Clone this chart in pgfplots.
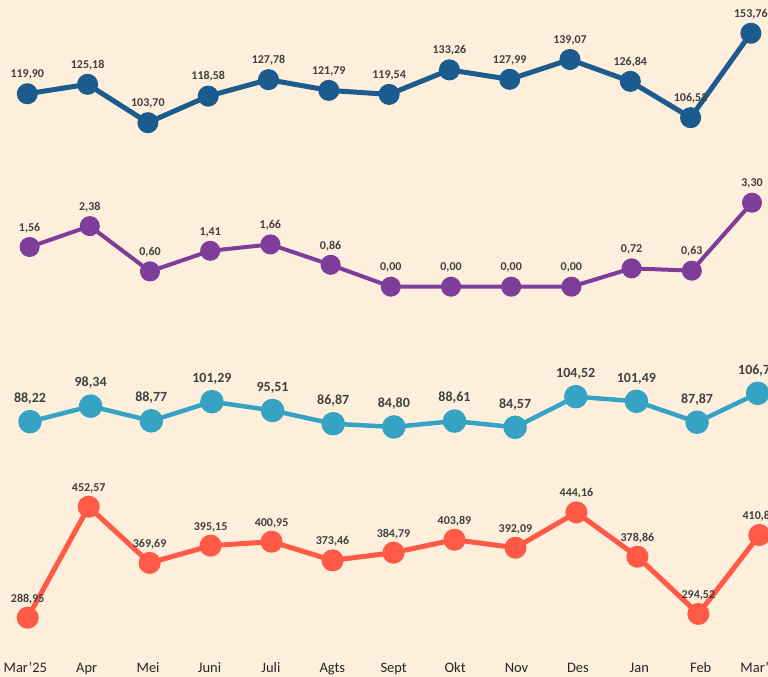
\documentclass[border=0pt]{standalone}
\usepackage{pgfplots}
\pgfplotsset{compat=1.18}
\usepackage{fontspec}
\setmainfont{Carlito}
\definecolor{bg}{HTML}{FEEFDC}
\definecolor{cblue}{HTML}{1B5B8E}
\definecolor{cpurple}{HTML}{7E3C9B}
\definecolor{ccyan}{HTML}{37A3C4}
\definecolor{cred}{HTML}{FF5A45}
\definecolor{ctxt}{HTML}{404040}
\pgfplotsset{
  band/.style={at={(0pt,0pt)}, anchor=south west, width=768pt, height=677pt,
    scale only axis, hide axis, clip=false,
    nodes near coords={\pgfmathprintnumber[fixed,fixed zerofill,precision=2,use comma,assume math mode=true]{\pgfplotspointmeta}},
    every node near coord/.append style={anchor=base, text=ctxt, inner sep=0pt}},
}
\begin{document}
\begin{tikzpicture}
\path[use as bounding box] (0pt,0pt) rectangle (768pt,677pt);
\fill[bg] (0pt,0pt) rectangle (768pt,677pt);
\clip (0pt,0pt) rectangle (768pt,677pt);
% Series 1 (dark blue)
\begin{axis}[band, xmin=-0.4527, xmax=12.2836, ymin=-206.66, ymax=172.40,
  every node near coord/.append style={yshift=16.2pt, font=\bfseries\fontsize{12}{12}\selectfont}]
\addplot[cblue, line width=5pt, line join=round, mark=*, mark size=8pt, mark options={draw=none, fill=cblue}] coordinates {
(0,119.90) (1,125.18) (2,103.70) (3,118.58) (4,127.78) (5,121.79) (6,119.54)
(7,133.26) (8,127.99) (9,139.07) (10,126.84) (11,106.52) (12,153.76)};
\end{axis}
% Series 2 (purple)
\begin{axis}[band, xmin=-0.4917, xmax=12.2658, ymin=-15.336, ymax=11.265,
  every node near coord/.append style={yshift=15.7pt, font=\bfseries\fontsize{12}{12}\selectfont}]
\addplot[cpurple, line width=4pt, line join=round, mark=*, mark size=8pt, mark options={draw=none, fill=cpurple}] coordinates {
(0,1.56) (1,2.38) (2,0.60) (3,1.41) (4,1.66) (5,0.86) (6,0.00)
(7,0.00) (8,0.00) (9,0.00) (10,0.72) (11,0.63) (12,3.30)};
\end{axis}
% Series 3 (cyan)
\begin{axis}[band, xmin=-0.4947, xmax=12.170, ymin=-78.21, ymax=363.12,
  every node near coord/.append style={yshift=19.2pt, font=\bfseries\fontsize{14}{14}\selectfont}]
\addplot[ccyan, line width=4.5pt, line join=round, mark=*, mark size=9.5pt, mark options={draw=none, fill=ccyan}] coordinates {
(0,88.22) (1,98.34) (2,88.77) (3,101.29) (4,95.51) (5,86.87) (6,84.80)
(7,88.61) (8,84.57) (9,104.52) (10,101.49) (11,87.87) (12,106.72)};
\end{axis}
% Series 4 (red)
\begin{axis}[band, xmin=-0.4543, xmax=12.142, ymin=201.54, ymax=1199.48,
  every node near coord/.append style={yshift=15.5pt, font=\bfseries\fontsize{12}{12}\selectfont}]
\addplot[cred, line width=5pt, line join=round, mark=*, mark size=8.5pt, mark options={draw=none, fill=cred}] coordinates {
(0,288.95) (1,452.57) (2,369.69) (3,395.15) (4,400.95) (5,373.46) (6,384.79)
(7,403.89) (8,392.09) (9,444.16) (10,378.86) (11,294.52) (12,410.85)};
\end{axis}
% Category labels
\begin{axis}[at={(0pt,0pt)}, anchor=south west, width=768pt, height=677pt,
  scale only axis, clip=false, xmin=-0.412, xmax=12.096, ymin=0, ymax=1,
  axis line style={draw=none}, ytick=\empty, xtick={0,...,12},
  xticklabels={Mar’25,Apr,Mei,Juni,Juli,Agts,Sept,Okt,Nov,Des,Jan,Feb,Mar’26},
  major tick length=0pt,
  xticklabel style={anchor=base, yshift=5pt, inner sep=0pt, text=black!85, font=\fontsize{14.5}{14.5}\selectfont}]
\addplot[draw=none] coordinates {(0,0.5)};
\end{axis}
\end{tikzpicture}
\end{document}
